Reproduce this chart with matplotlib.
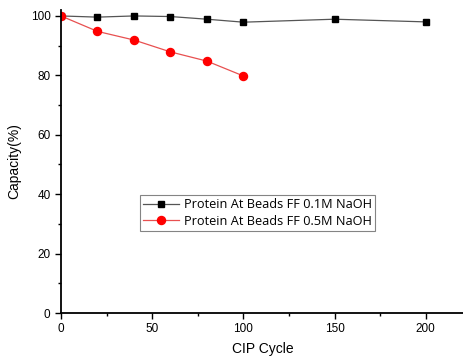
import matplotlib
matplotlib.use("Agg")
import matplotlib.pyplot as plt
from matplotlib.ticker import MultipleLocator

cycles_01 = [0, 20, 40, 60, 80, 100, 150, 200]
capacity_01 = [100, 99.6, 100, 99.8, 98.9, 97.9, 98.9, 98.0]
cycles_05 = [0, 20, 40, 60, 80, 100]
capacity_05 = [100, 94.8, 91.9, 87.9, 84.8, 79.8]
labels = ["Protein At Beads FF 0.1M NaOH", "Protein At Beads FF 0.5M NaOH"]

plt.rcParams["font.family"] = ["Liberation Sans", "DejaVu Sans"]

fig = plt.figure(figsize=(4.64, 3.59), dpi=100)
ax = fig.add_axes([61 / 464, 46 / 359, 403 / 464, 303 / 359])

ax.plot(cycles_01, capacity_01, color="#555555", lw=0.9, marker="s", ms=4.8,
        mfc="black", mec="black", label=labels[0])
ax.plot(cycles_05, capacity_05, color="#e85050", lw=0.9, marker="o", ms=5.8,
        mfc="red", mec="red", label=labels[1])

ax.set_xlim(0, 221)
ax.set_ylim(0, 102)
ax.xaxis.set_major_locator(MultipleLocator(50))
ax.xaxis.set_minor_locator(MultipleLocator(25))
ax.yaxis.set_major_locator(MultipleLocator(20))
ax.yaxis.set_minor_locator(MultipleLocator(10))
ax.tick_params(which="major", direction="out", length=4, width=1, labelsize=8.5)
ax.tick_params(which="minor", direction="out", length=2.5, width=1)
for s in ["top", "right"]:
    ax.spines[s].set_visible(False)
for s in ["left", "bottom"]:
    ax.spines[s].set_linewidth(1.3)

ax.set_xlabel("CIP Cycle", fontsize=10, labelpad=5)
ax.set_ylabel("Capacity(%)", fontsize=10, labelpad=7)

leg = ax.legend(loc="upper left", bbox_to_anchor=(0.196, 0.389),
                prop={"family": "Open Sans", "size": 9.2},
                frameon=True, fancybox=False, edgecolor="#666666",
                handlelength=2.8, borderpad=0.25, labelspacing=0.25,
                handletextpad=0.4, borderaxespad=0)
leg.get_frame().set_linewidth(0.8)

fig.savefig("out.png", dpi=100)
